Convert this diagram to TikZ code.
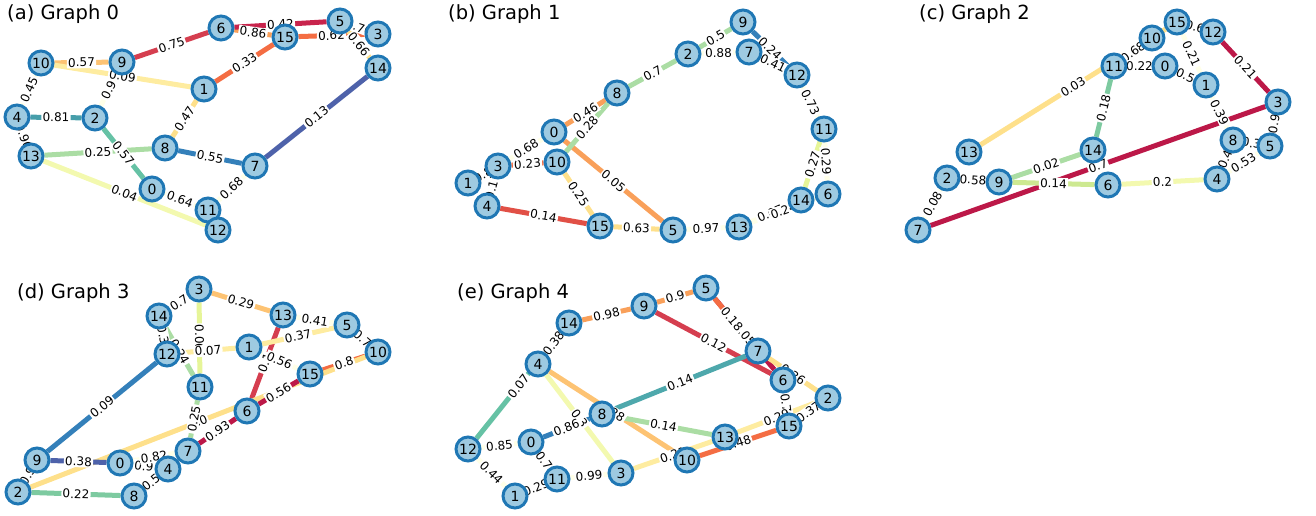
\documentclass[tikz,border=0pt]{standalone}
\usepackage{fontspec}
\setmainfont{DejaVu Sans}
\pgfdeclarelayer{edgel}
\pgfdeclarelayer{labl}
\pgfsetlayers{edgel,labl,main}
\definecolor{cr}{RGB}{188,24,72}
\definecolor{cra}{RGB}{200,36,76}
\definecolor{rd}{RGB}{213,62,79}
\definecolor{rdb}{RGB}{225,80,70}
\definecolor{orr}{RGB}{244,109,67}
\definecolor{orn}{RGB}{249,160,90}
\definecolor{lor}{RGB}{253,195,115}
\definecolor{yl}{RGB}{254,224,139}
\definecolor{pyl}{RGB}{254,236,160}
\definecolor{pl}{RGB}{255,255,232}
\definecolor{plg}{RGB}{243,249,175}
\definecolor{pg}{RGB}{230,245,152}
\definecolor{ylg}{RGB}{205,233,145}
\definecolor{lg}{RGB}{171,221,164}
\definecolor{gn}{RGB}{125,202,160}
\definecolor{tl}{RGB}{102,194,165}
\definecolor{teal}{RGB}{70,158,170}
\definecolor{tealb}{RGB}{78,168,172}
\definecolor{bl}{RGB}{52,128,186}
\definecolor{pb}{RGB}{78,98,170}
\definecolor{nodefill}{RGB}{158,202,225}
\definecolor{nodeline}{RGB}{31,119,180}
\tikzset{
  nd/.style={circle,draw=nodeline,fill=nodefill,line width=3pt,minimum size=24pt,inner sep=0pt,font=\fontsize{14}{14}\selectfont},
  ed/.style={line width=5pt},
  el/.style={fill=white,inner sep=1.2pt,font=\fontsize{12}{12}\selectfont,sloped},
  ttl/.style={anchor=west,inner sep=0pt,font=\fontsize{19.5}{20}\selectfont}
}
\newcommand\E[4]{%
  \begin{pgfonlayer}{edgel}\draw[ed,draw=#3] (#1) -- (#2);\end{pgfonlayer}%
  \begin{pgfonlayer}{labl}\path (#1) -- node[el]{#4} (#2);\end{pgfonlayer}}
\begin{document}
\begin{tikzpicture}[x=1pt,y=-1pt]
\useasboundingbox (0,0) rectangle (1316,516);
% titles
\node[ttl] (ta) at (7,14) {(a) Graph 0};
\node[ttl] (tb) at (448,14) {(b) Graph 1};
\node[ttl] (tc) at (919,14) {(c) Graph 2};
\node[ttl] (td) at (17,293) {(d) Graph 3};
\node[ttl] (te) at (457,293) {(e) Graph 4};
% ---------------- Graph 0
\node[nd] (a0) at (152,189) {0};
\node[nd] (a1) at (204,89) {1};
\node[nd] (a2) at (95,118) {2};
\node[nd] (a3) at (378,34) {3};
\node[nd] (a4) at (17,117) {4};
\node[nd] (a5) at (340,21) {5};
\node[nd] (a6) at (221,28) {6};
\node[nd] (a7) at (255,166) {7};
\node[nd] (a8) at (165,148) {8};
\node[nd] (a9) at (122,62) {9};
\node[nd] (a10) at (41,63) {10};
\node[nd] (a11) at (208,210) {11};
\node[nd] (a12) at (218,230) {12};
\node[nd] (a13) at (31,156) {13};
\node[nd] (a14) at (378,68) {14};
\node[nd] (a15) at (285,37) {15};
\E{a10}{a9}{lor}{0.57}
\E{a10}{a1}{pyl}{0.09}
\E{a9}{a6}{rd}{0.75}
\E{a6}{a15}{orn}{0.86}
\E{a6}{a5}{cra}{0.42}
\E{a15}{a1}{orr}{0.33}
\E{a15}{a3}{orr}{0.62}
\E{a5}{a3}{yl}{0.76}
\E{a5}{a14}{yl}{0.66}
\E{a14}{a7}{pb}{0.13}
\E{a9}{a2}{pl}{0.9}
\E{a10}{a4}{pl}{0.45}
\E{a4}{a2}{teal}{0.81}
\E{a4}{a13}{pl}{0.96}
\E{a2}{a0}{tl}{0.57}
\E{a13}{a8}{lg}{0.25}
\E{a13}{a12}{plg}{0.04}
\E{a8}{a1}{yl}{0.47}
\E{a8}{a7}{bl}{0.55}
\E{a7}{a11}{pl}{0.68}
\E{a0}{a11}{pl}{0.64}
% ---------------- Graph 1
\node[nd] (b0) at (554,132) {0};
\node[nd] (b1) at (468,183) {1};
\node[nd] (b2) at (688,54) {2};
\node[nd] (b3) at (498,166) {3};
\node[nd] (b4) at (487,206) {4};
\node[nd] (b5) at (673,230) {5};
\node[nd] (b6) at (828,194) {6};
\node[nd] (b7) at (749,52) {7};
\node[nd] (b8) at (617,93) {8};
\node[nd] (b9) at (743,22) {9};
\node[nd] (b10) at (557,162) {10};
\node[nd] (b11) at (824,129) {11};
\node[nd] (b12) at (797,75) {12};
\node[nd] (b13) at (739,227) {13};
\node[nd] (b14) at (801,200) {14};
\node[nd] (b15) at (600,226) {15};
\E{b2}{b8}{lg}{0.7}
\E{b2}{b9}{lg}{0.5}
\E{b2}{b7}{pl}{0.88}
\E{b9}{b12}{bl}{0.24}
\E{b7}{b12}{pl}{0.41}
\E{b12}{b11}{pl}{0.73}
\E{b11}{b6}{pl}{0.29}
\E{b11}{b14}{pg}{0.27}
\E{b13}{b14}{pl}{0.07}
\E{b13}{b6}{pl}{0.24}
\E{b5}{b13}{pl}{0.97}
\E{b15}{b5}{yl}{0.63}
\E{b4}{b15}{rdb}{0.14}
\E{b0}{b5}{orn}{0.05}
\E{b0}{b8}{orn}{0.46}
\E{b10}{b8}{lg}{0.28}
\E{b10}{b15}{yl}{0.25}
\E{b3}{b10}{orr}{0.23}
\E{b3}{b0}{pl}{0.68}
\E{b1}{b3}{pl}{0.8}
\E{b3}{b4}{pl}{0.17}
% ---------------- Graph 2
\node[nd] (c0) at (1165,66) {0};
\node[nd] (c1) at (1206,85) {1};
\node[nd] (c2) at (947,178) {2};
\node[nd] (c3) at (1278,102) {3};
\node[nd] (c4) at (1217,179) {4};
\node[nd] (c5) at (1270,146) {5};
\node[nd] (c6) at (1108,185) {6};
\node[nd] (c7) at (918,230) {7};
\node[nd] (c8) at (1233,140) {8};
\node[nd] (c9) at (999,182) {9};
\node[nd] (c10) at (1152,38) {10};
\node[nd] (c11) at (1114,66) {11};
\node[nd] (c12) at (1213,32) {12};
\node[nd] (c13) at (969,152) {13};
\node[nd] (c14) at (1093,150) {14};
\node[nd] (c15) at (1177,22) {15};
\E{c13}{c15}{yl}{0.03}
\E{c11}{c14}{gn}{0.18}
\E{c11}{c10}{pl}{0.68}
\E{c11}{c0}{pl}{0.22}
\E{c15}{c12}{pl}{0.6}
\E{c15}{c1}{pl}{0.21}
\E{c0}{c1}{pl}{0.5}
\E{c12}{c3}{cr}{0.21}
\E{c3}{c7}{cr}{0.7}
\E{c1}{c8}{pl}{0.39}
\E{c8}{c4}{pl}{0.4}
\E{c3}{c5}{pl}{0.9}
\E{c8}{c5}{pl}{0.3}
\E{c5}{c4}{pl}{0.53}
\E{c9}{c14}{lg}{0.02}
\E{c9}{c6}{ylg}{0.14}
\E{c6}{c4}{plg}{0.2}
\E{c2}{c9}{pl}{0.58}
\E{c2}{c7}{pl}{0.08}
% ---------------- Graph 3
\node[nd] (d0) at (120,463) {0};
\node[nd] (d1) at (249,347) {1};
\node[nd] (d2) at (18,492) {2};
\node[nd] (d3) at (199,289) {3};
\node[nd] (d4) at (168,469) {4};
\node[nd] (d5) at (347,325) {5};
\node[nd] (d6) at (247,411) {6};
\node[nd] (d7) at (188,451) {7};
\node[nd] (d8) at (134,496) {8};
\node[nd] (d9) at (37,460) {9};
\node[nd] (d10) at (378,352) {10};
\node[nd] (d11) at (200,387) {11};
\node[nd] (d12) at (167,354) {12};
\node[nd] (d13) at (283,315) {13};
\node[nd] (d14) at (159,316) {14};
\node[nd] (d15) at (310,374) {15};
\E{d3}{d13}{lor}{0.29}
\E{d3}{d14}{pl}{0.7}
\E{d3}{d11}{pg}{0.06}
\E{d13}{d5}{pl}{0.41}
\E{d13}{d6}{rd}{0.1}
\E{d1}{d5}{pyl}{0.37}
\E{d5}{d10}{pl}{0.7}
\E{d1}{d12}{pyl}{0.07}
\E{d1}{d15}{pl}{0.56}
\E{d15}{d10}{orr}{0.8}
\E{d2}{d10}{yl}{0.0}
\E{d6}{d15}{cr}{0.56}
\E{d12}{d9}{bl}{0.09}
\E{d14}{d12}{pl}{0.3}
\E{d14}{d11}{lg}{0.24}
\E{d11}{d7}{lg}{0.25}
\E{d9}{d0}{pb}{0.38}
\E{d9}{d2}{pl}{0.9}
\E{d2}{d8}{gn}{0.22}
\E{d0}{d4}{pl}{0.9}
\E{d0}{d7}{pl}{0.82}
\E{d7}{d6}{cr}{0.93}
\E{d8}{d4}{pl}{0.5}
% ---------------- Graph 4
\node[nd] (e0) at (531,442) {0};
\node[nd] (e1) at (515,496) {1};
\node[nd] (e2) at (828,398) {2};
\node[nd] (e3) at (621,473) {3};
\node[nd] (e4) at (538,364) {4};
\node[nd] (e5) at (706,288) {5};
\node[nd] (e6) at (783,380) {6};
\node[nd] (e7) at (758,351) {7};
\node[nd] (e8) at (602,414) {8};
\node[nd] (e9) at (644,306) {9};
\node[nd] (e10) at (687,460) {10};
\node[nd] (e11) at (557,479) {11};
\node[nd] (e12) at (468,449) {12};
\node[nd] (e13) at (725,437) {13};
\node[nd] (e14) at (569,323) {14};
\node[nd] (e15) at (789,426) {15};
\E{e14}{e9}{orn}{0.98}
\E{e9}{e5}{orn}{0.9}
\E{e5}{e6}{cr}{0.05}
\E{e5}{e7}{orr}{0.18}
\E{e9}{e6}{rd}{0.12}
\E{e7}{e2}{yl}{0.36}
\E{e7}{e8}{tealb}{0.14}
\E{e6}{e15}{pl}{0.7}
\E{e2}{e15}{pl}{0.37}
\E{e13}{e2}{pyl}{0.29}
\E{e3}{e13}{pyl}{0.21}
\E{e4}{e10}{lor}{0.28}
\E{e10}{e15}{orr}{0.48}
\E{e8}{e13}{lg}{0.14}
\E{e4}{e3}{plg}{0.3}
\E{e0}{e8}{bl}{0.86}
\E{e12}{e14}{tl}{0.07}
\E{e4}{e14}{pl}{0.38}
\E{e12}{e0}{pl}{0.85}
\E{e12}{e1}{pl}{0.44}
\E{e0}{e11}{pl}{0.7}
\E{e1}{e11}{pl}{0.29}
\E{e11}{e3}{pl}{0.99}
\end{tikzpicture}
\end{document}
